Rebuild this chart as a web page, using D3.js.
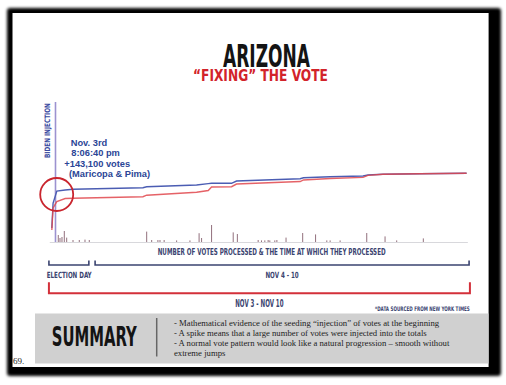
<!DOCTYPE html>
<html>
<head>
<meta charset="utf-8">
<script src="https://cdn.jsdelivr.net/npm/d3@7"></script>
<style>
  body { margin: 0; background: #fff; }
  .cond { font-family: "DejaVu Sans Condensed", "Liberation Sans Narrow", sans-serif; font-weight: bold; }
</style>
</head>
<body>
<div id="chart-area"></div>
<script>

// data - position on the timeline (0 = election night, 100 = Nov 10)
var times  = [0.2, 0.5, 1.4, 3.4, 5.3, 22.1, 23.0, 35.0, 37.8, 38.6, 43.4, 44.6, 59.9, 60.7, 67.1, 75.0, 76.2, 79.8, 88.7, 99.9];
// cumulative votes (thousands)
var bidenVotes = [340, 947, 1238, 1262, 1280, 1319, 1343, 1384, 1418, 1425, 1425, 1481, 1537, 1561, 1586, 1603, 1627, 1646, 1656, 1668];
var trumpVotes = [291, 826, 979, 1056, 1062, 1100, 1136, 1207, 1251, 1336, 1343, 1408, 1469, 1506, 1542, 1569, 1617, 1644, 1656, 1668];

// batches of votes processed (thousands)
var batchTimes = [1.75, 2.16, 2.64, 3.2, 3.77, 5.29, 6.8, 8.17, 9.2, 23.0, 24.2, 25.7, 26.2, 27.2, 30.2, 33.4, 35.6, 36.2, 38.6, 43.8, 44.8, 49.8, 50.6, 51.4, 52.2, 52.6, 53.8, 54.3, 56.5, 60.5, 63.6, 66.3, 67.1, 69.5, 75.9, 80.3, 83.1, 89.5];
var batchSizes = [17.5, 10, 12.5, 27.5, 11, 5, 5, 6, 5, 26, 5, 5, 5, 5, 4, 4, 22, 10, 42.5, 24, 20, 5, 4, 4, 5, 4, 4, 5, 11, 22.5, 19, 4, 4, 4, 22.5, 14, 4, 9];

var injectionTime = 1.08;
var annotation = ["Nov. 3rd", "8:06:40 pm", "+143,100 votes", "(Maricopa & Pima)"];

var periodNames = ["ELECTION DAY", "NOV 4 - 10", "NOV 3 - NOV 10"];
var periodStart = [-0.5, 10.6, -0.5];
var periodEnd   = [9.1, 100.5, 100.7];

var summary = [
    "- Mathematical evidence of the seeding \u201cinjection\u201d of votes at the beginning",
    "- A spike means that a large number of votes were injected into the totals",
    "- A normal vote pattern would look like a natural progression \u2013 smooth without",
    "extreme jumps"
];

var navy = "#3b4470";

var svg = d3.select("#chart-area")
    .append("svg")
    .attr("width", 506)
    .attr("height", 385);

// squeeze a condensed label to a given width (like the poster's narrow font)
function condText(txt, x0, y0, size, width, color, rotate) {
    var t = svg.append("text")
        .attr("class", "cond")
        .style("font-size", size + "px")
        .attr("fill", color)
        .text(txt);
    var sx = width / t.node().getComputedTextLength();
    t.attr("transform", "translate(" + x0 + "," + y0 + ")" + (rotate ? " rotate(" + rotate + ")" : "") + " scale(" + sx + ",1)");
    return t;
}

// frame with shadow
var defs = svg.append("defs");
defs.append("filter").attr("id", "blur")
    .attr("x", "-5%").attr("y", "-5%").attr("width", "110%").attr("height", "110%")
    .append("feGaussianBlur").attr("stdDeviation", 1.6);

svg.append("rect")
    .attr("x", 7).attr("y", 8).attr("width", 494).attr("height", 368)
    .attr("rx", 3)
    .attr("fill", "#000")
    .attr("filter", "url(#blur)");
svg.append("rect")
    .attr("x", 12.5).attr("y", 13).attr("width", 476).attr("height", 354)
    .attr("fill", "#fff");
svg.append("line")
    .attr("x1", 488.5).attr("x2", 488.5).attr("y1", 13).attr("y2", 367)
    .attr("stroke", "#999").attr("stroke-width", 1);

// titles
condText("ARIZONA", 223, 66.5, 32, 87, "#141414");
condText("\u201cFIXING\u201d THE VOTE", 193, 80.5, 16.5, 135, "#d2232a");

// scales
var x = d3.scaleLinear()
    .domain([0, 100])
    .range([51, 467]);

var y = d3.scaleLinear()
    .domain([0, 1700])
    .range([242, 172]);

var yBatch = d3.scaleLinear()
    .domain([0, 50])
    .range([242, 222]);

// baseline
svg.append("line")
    .attr("x1", x(-0.3)).attr("x2", x(100.2))
    .attr("y1", y(0) + 0.5).attr("y2", y(0) + 0.5)
    .attr("stroke", "#d8d8dc").attr("stroke-width", 1);

// spikes
svg.selectAll(".spike")
    .data(batchTimes)
  .enter()
    .append("line")
    .attr("class", "spike")
    .attr("x1", function(d) { return x(d); })
    .attr("x2", function(d) { return x(d); })
    .attr("y1", yBatch(0))
    .attr("y2", function(d, i) { return yBatch(batchSizes[i]); })
    .attr("stroke", "#86606e")
    .attr("stroke-width", 0.9);

// injection line
svg.append("line")
    .attr("x1", x(injectionTime)).attr("x2", x(injectionTime))
    .attr("y1", 102).attr("y2", y(0))
    .attr("stroke", "#9c92d0").attr("stroke-width", 1.6);

condText("BIDEN INJECTION", 49.5, 158, 7.5, 55, "#3a4aa0", -90);

// vote lines
var line = d3.line()
    .x(function(d) { return x(d[0]); })
    .y(function(d) { return y(d[1]); });

svg.append("path")
    .datum(times.map(function(t, i) { return [t, bidenVotes[i]]; }))
    .attr("d", line)
    .attr("fill", "none")
    .attr("stroke", "#4b5db3")
    .attr("stroke-width", 1.4);

svg.append("path")
    .datum(times.map(function(t, i) { return [t, trumpVotes[i]]; }))
    .attr("d", line)
    .attr("fill", "none")
    .attr("stroke", "#e0474c")
    .attr("stroke-width", 1.4)
    .attr("stroke-opacity", 0.85);

// circle round the injection
svg.append("circle")
    .attr("cx", 56.7).attr("cy", 194.5).attr("r", 16.5)
    .attr("fill", "none")
    .attr("stroke", "#c9252e")
    .attr("stroke-width", 1.8);

// annotation
var annX = [70.7, 71.3, 64.3, 69];
svg.selectAll(".ann")
    .data(annotation)
  .enter()
    .append("text")
    .attr("class", "ann")
    .attr("x", function(d, i) { return annX[i]; })
    .attr("y", function(d, i) { return 146 + i * 10.4; })
    .style("font-family", "Liberation Sans, Arial, sans-serif")
    .style("font-weight", "bold")
    .style("font-size", "9.3px")
    .attr("fill", "#2b4596")
    .text(function(d) { return d; });

// axis caption
condText("NUMBER OF VOTES PROCESSED & THE TIME AT WHICH THEY PROCESSED", 157.7, 255, 9.5, 228, navy);

// period brackets
var bracketY = [265, 265, 293.3];
var bracketH = [4.5, 4.5, 11];
var bracketColor = [navy, navy, "#d3303a"];
var bracketW = [1.6, 1.6, 2];
var labelY = [278.3, 278.3, 306.7];
var labelSize = [8.5, 8.5, 10];
var labelLen = [45, 33.4, 48.3];

periodNames.forEach(function(name, i) {
    var x0 = x(periodStart[i]), x1 = x(periodEnd[i]);
    svg.append("path")
        .attr("d", "M" + x0 + "," + (bracketY[i] - bracketH[i]) + "V" + bracketY[i] + "H" + x1 + "V" + (bracketY[i] - bracketH[i]))
        .attr("fill", "none")
        .attr("stroke", bracketColor[i])
        .attr("stroke-width", bracketW[i]);

    var cx = (x0 + x1) / 2;
    if (i == 0) cx = 69.2;
    condText(name, cx - labelLen[i] / 2, labelY[i], labelSize[i], labelLen[i], navy);
});

condText("*DATA SOURCED FROM NEW YORK TIMES", 375, 310.5, 6.3, 95, navy);

// summary box
svg.append("rect")
    .attr("x", 35).attr("y", 313.5).attr("width", 453.5).attr("height", 50)
    .attr("fill", "#d0d0d0");

condText("SUMMARY", 51.7, 346, 27, 85, "#141414");

svg.append("line")
    .attr("x1", 156.7).attr("x2", 156.7).attr("y1", 318).attr("y2", 356.5)
    .attr("stroke", "#666").attr("stroke-width", 1.5);

svg.selectAll(".sum")
    .data(summary)
  .enter()
    .append("text")
    .attr("class", "sum")
    .attr("x", 174)
    .attr("y", function(d, i) { return 325.5 + i * 10.1; })
    .style("font-family", "Liberation Serif, Times New Roman, serif")
    .style("font-size", "8.7px")
    .attr("fill", "#222")
    .text(function(d) { return d; });

svg.append("text")
    .attr("x", 13).attr("y", 364)
    .style("font-family", "Liberation Serif, Times New Roman, serif")
    .style("font-size", "9px")
    .attr("fill", "#222")
    .text("69.");

</script>
</body>
</html>
